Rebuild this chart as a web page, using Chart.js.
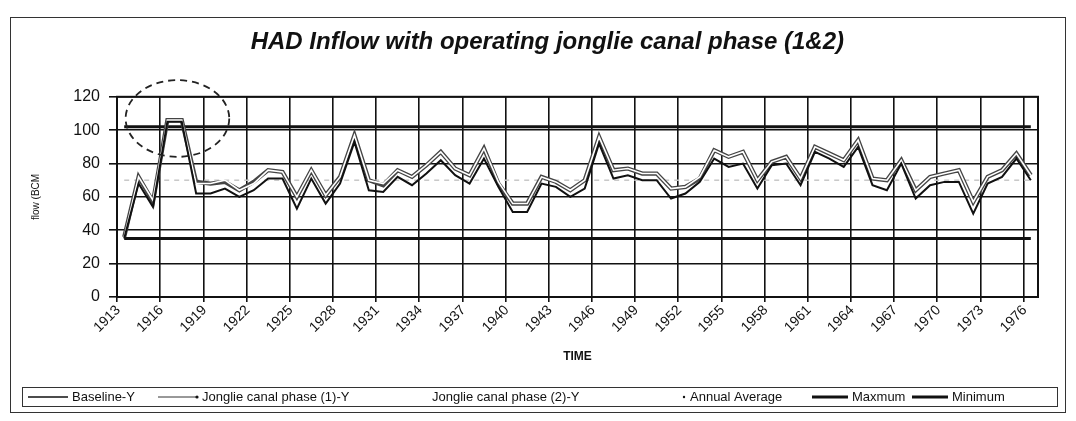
<!DOCTYPE html>
<html>
<head>
<meta charset="utf-8">
<script src="https://cdn.jsdelivr.net/npm/chart.js@4/dist/chart.umd.min.js"></script>
<style>
  html, body { margin: 0; padding: 0; background: #fff; }
  #wrap { width: 1076px; height: 421px; }
</style>
</head>
<body>
<div id="wrap"><canvas id="chart" width="1076" height="421"></canvas></div>
<script>
const years = ['1913','1914','1915','1916','1917','1918','1919','1920','1921','1922','1923','1924','1925','1926','1927','1928',
  '1929','1930','1931','1932','1933','1934','1935','1936','1937','1938','1939','1940','1941','1942','1943','1944',
  '1945','1946','1947','1948','1949','1950','1951','1952','1953','1954','1955','1956','1957','1958','1959','1960',
  '1961','1962','1963','1964','1965','1966','1967','1968','1969','1970','1971','1972','1973','1974','1975','1976'];
const baseline = [35,68,54,105,105,62,62,65,60,64,71,71,53,71,56,68,93,64,63,72,67,74,82,73,68,83,66,51,51,68,66,60,
  65,92,71,73,70,70,59,62,69,83,78,80,65,79,80,67,87,83,78,90,67,64,80,59,67,69,69,50,68,72,83,70];
const phase1 = [36,72,57,106,106,69,68,69,64,69,76,75,60,76,61,72,97,70,67,76,72,79,87,77,73,89,68,56,56,72,69,64,
  70,96,76,77,74,74,65,66,71,88,84,87,70,81,84,71,90,86,82,94,71,70,82,64,72,74,76,57,72,76,86,73];
const phase2 = [36,72,58,106,106,68,68,70,64,68,76,75,60,76,61,72,97,70,68,76,72,79,87,77,73,89,69,56,56,72,69,64,
  70,96,76,77,74,74,65,66,72,88,84,87,70,81,84,71,90,86,82,94,71,70,82,64,72,74,76,57,72,76,86,73];
const annualAverage = 70;
const maximumFlow = 102;
const minimumFlow = 35;
const yTicks = [0, 20, 40, 60, 80, 100, 120];

const first = years[0];
const last = years[years.length - 1];
const flat = v => [{ x: first, y: v }, { x: last, y: v }];

// dashed ring drawn round the 1916-1917 peak
const ringPlugin = {
  id: 'ring',
  afterDatasetsDraw(chart) {
    const xs = chart.scales.x, ys = chart.scales.y;
    const cx = xs.getPixelForValue(3.7), cy = ys.getPixelForValue(107);
    const rx = xs.getPixelForValue(3.7 + 3.6) - cx;
    const ry = ys.getPixelForValue(107 - 23) - cy;
    const c = chart.ctx;
    c.save();
    c.setLineDash([7, 5]);
    c.lineWidth = 1.8;
    c.strokeStyle = '#222';
    c.beginPath();
    c.ellipse(cx, cy, rx, ry, 0, 0, Math.PI * 2);
    c.stroke();
    c.restore();
  }
};

// legend as in the scan: a boxed row under the axis title
const legendItems = [
  { text: 'Baseline-Y', x: 28, w: 40, color: '#111', lw: 1.5 },
  { text: 'Jonglie canal phase (1)-Y', x: 158, w: 40, color: '#333', lw: 1, tip: true },
  { text: 'Jonglie canal phase (2)-Y', x: 388, w: 40, color: null, lw: 0 },
  { text: 'Annual Average', x: 640, w: 46, color: null, lw: 0, dot: true },
  { text: 'Maxmum', x: 812, w: 36, color: '#111', lw: 3 },
  { text: 'Minimum', x: 912, w: 36, color: '#111', lw: 3 }
];

const framePlugin = {
  id: 'frame',
  beforeDraw(chart) {
    const c = chart.ctx;
    c.save();
    c.fillStyle = '#fff';
    c.fillRect(0, 0, chart.width, chart.height);
    c.restore();
  },
  afterDraw(chart) {
    const c = chart.ctx, a = chart.chartArea;
    c.save();
    c.strokeStyle = '#111';
    c.lineWidth = 2;
    c.strokeRect(a.left, a.top, a.right - a.left, a.bottom - a.top);
    c.lineWidth = 1;
    c.strokeStyle = '#333';
    c.strokeRect(10.5, 17.5, 1055, 395);
    c.strokeRect(22.5, 387.5, 1035, 19);
    const ly = 397;
    c.font = '13px "Liberation Sans"';
    c.textBaseline = 'middle';
    c.fillStyle = '#111';
    legendItems.forEach(it => {
      if (it.color) {
        c.strokeStyle = it.color;
        c.lineWidth = it.lw;
        c.beginPath();
        c.moveTo(it.x, ly);
        c.lineTo(it.x + it.w, ly);
        c.stroke();
      }
      if (it.tip) {
        c.beginPath();
        c.arc(it.x + it.w - 1, ly, 1.6, 0, Math.PI * 2);
        c.fill();
      }
      if (it.dot) {
        c.beginPath();
        c.arc(it.x + it.w - 2, ly, 1.2, 0, Math.PI * 2);
        c.fill();
      }
      c.fillText(it.text, it.x + it.w + 4, ly);
    });
    c.restore();
  }
};

new Chart(document.getElementById('chart'), {
  type: 'line',
  data: {
    labels: years,
    datasets: [
      { label: 'Baseline-Y', data: baseline, borderColor: '#111', borderWidth: 2, order: 1 },
      { label: 'Jonglie canal phase (1)-Y', data: phase1, borderColor: '#444', borderWidth: 4.2, order: 3 },
      { label: 'Jonglie canal phase (2)-Y', data: phase2, borderColor: '#fff', borderWidth: 1.6, order: 2 },
      { label: 'Annual Average', data: flat(annualAverage), borderColor: '#c8c8c8', borderWidth: 1.5, borderDash: [5, 5], order: 4 },
      { label: 'Maxmum', data: flat(maximumFlow), borderColor: '#111', borderWidth: 3, order: 5 },
      { label: 'Minimum', data: flat(minimumFlow), borderColor: '#111', borderWidth: 3, order: 6 }
    ]
  },
  options: {
    responsive: false,
    animation: false,
    devicePixelRatio: 1,
    elements: { point: { radius: 0 }, line: { tension: 0 } },
    layout: { padding: { left: 30, right: 38, top: 10, bottom: 57 } },
    plugins: {
      title: {
        display: true,
        text: '    HAD Inflow with operating jonglie canal phase (1&2)',
        color: '#111',
        font: { family: 'Liberation Sans', size: 24, weight: 'bold', style: 'italic' },
        padding: { top: 18, bottom: 40 }
      },
      legend: { display: false },
      tooltip: { enabled: false }
    },
    scales: {
      x: {
        type: 'category',
        offset: true,
        grid: {
          offset: true,
          color: ctx => ctx.index % 3 === 0 ? '#111' : 'rgba(0,0,0,0)',
          lineWidth: 1.6,
          drawTicks: true,
          tickLength: 5
        },
        border: { display: true, color: '#111', width: 2 },
        ticks: {
          autoSkip: false,
          minRotation: 45,
          maxRotation: 45,
          color: '#111',
          font: { family: 'Liberation Sans', size: 14 },
          padding: 0,
          labelOffset: -6,
          callback: (v, i) => i % 3 === 0 ? years[i] : ''
        },
        title: {
          display: true, text: 'TIME', color: '#111',
          font: { family: 'Liberation Sans', size: 12, weight: 'bold' },
          padding: { top: 0, bottom: 0 }
        },
        afterFit: s => { s.height = 67; }
      },
      y: {
        min: 0,
        max: 120,
        afterBuildTicks: s => { s.ticks = yTicks.map(v => ({ value: v })); },
        grid: { color: '#111', lineWidth: 1.6, tickLength: 8 },
        border: { display: true, color: '#111', width: 2 },
        ticks: {
          color: '#111',
          font: { family: 'Liberation Sans', size: 16 },
          padding: 9
        },
        title: {
          display: true, text: 'flow (BCM', color: '#111',
          font: { family: 'Liberation Sans', size: 10 },
          padding: 0
        },
        afterFit: s => { s.width = 87; }
      }
    }
  },
  plugins: [ringPlugin, framePlugin]
});
</script>
</body>
</html>
